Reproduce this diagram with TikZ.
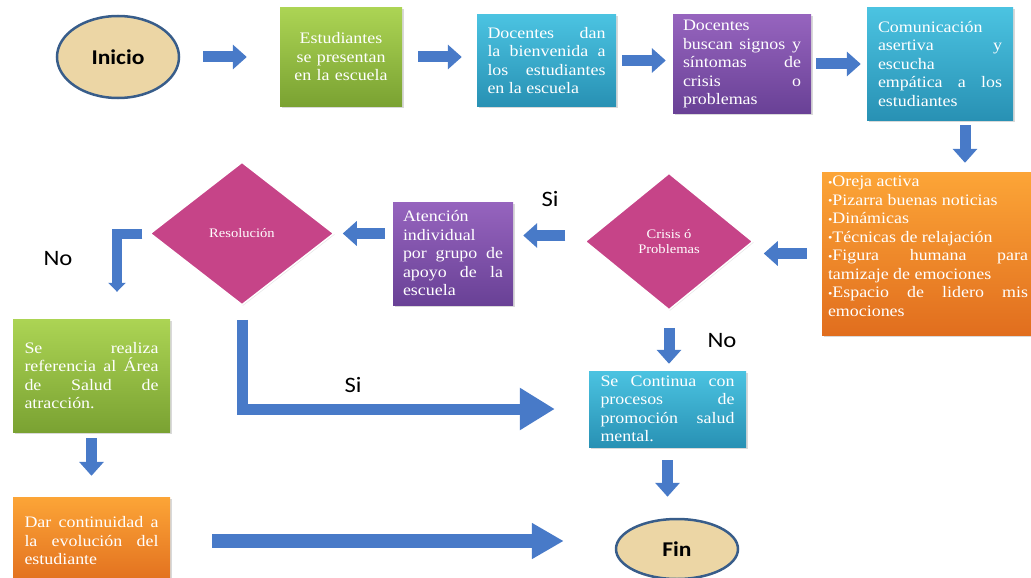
\documentclass[tikz,border=0pt]{standalone}
\usepackage{fontspec}
\setmainfont[FakeStretch=1.12]{Liberation Serif}
\newfontfamily\labelfont[FakeStretch=1.12]{Carlito}
\usetikzlibrary{arrows.meta}
\usetikzlibrary{shapes.geometric}
\usetikzlibrary{shadows}

\definecolor{greenT}{RGB}{172,212,84}
\definecolor{greenB}{RGB}{122,162,50}
\definecolor{cyanT}{RGB}{75,195,225}
\definecolor{cyanB}{RGB}{40,145,180}
\definecolor{purpleT}{RGB}{150,100,190}
\definecolor{purpleB}{RGB}{105,65,150}
\definecolor{orangeT}{RGB}{252,165,55}
\definecolor{orangeB}{RGB}{225,110,30}
\definecolor{decisionpink}{RGB}{198,68,136}
\definecolor{parchment}{RGB}{236,214,165}
\definecolor{rimblue}{RGB}{56,93,138}
\definecolor{flowblue}{RGB}{72,122,200}

\newcommand{\boxtext}{\fontsize{16}{18.5}\selectfont\hyphenpenalty=10000 \tolerance=10000 }
\newcommand{\dotitem}{\raisebox{0.12ex}{\scalebox{0.7}{•}}}

\begin{document}
\begin{tikzpicture}[x=1pt, y=-1pt,
	box/.style={rectangle, inner sep=1pt, text=white, font=\boxtext, align=justify, drop shadow={opacity=0.3, shadow xshift=1.5pt, shadow yshift=-1.5pt}},
	greenbox/.style={box, top color=greenT, bottom color=greenB},
	cyanbox/.style={box, top color=cyanT, bottom color=cyanB},
	purplebox/.style={box, top color=purpleT, bottom color=purpleB},
	orangebox/.style={box, top color=orangeT, bottom color=orangeB},
	decision/.style={diamond, fill=decisionpink, draw=white, line width=1.5pt, inner sep=0pt, text=white, align=center, font=\fontsize{13}{15}\selectfont, drop shadow={opacity=0.2, shadow xshift=1pt, shadow yshift=-1pt}},
	terminal/.style={ellipse, fill=parchment, draw=rimblue, line width=2.5pt, inner sep=0pt, font=\labelfont\bfseries\fontsize{21}{24}\selectfont},
	answer/.style={font=\labelfont\fontsize{22}{24}\selectfont},
	flow/.style={draw=flowblue, line width=11pt, -{Triangle[length=14pt, width=24pt]}}]
	\useasboundingbox (0,0) rectangle (1031,578);
	% top row
	\node[terminal, minimum width=122pt, minimum height=82pt] (ini) at (118,57) {Inicio};
	\node[greenbox, minimum width=122pt, minimum height=98pt, text width=110pt, align=center] (est) at (341,57) {Estudiantes\\ se presentan\\ en la escuela};
	\node[cyanbox, minimum width=139pt, minimum height=91pt, text width=118pt] (doc) at (546.5,60.5) {Docentes dan\linebreak la bienvenida a\linebreak los estudiantes\linebreak en la escuela};
	\node[purplebox, minimum width=138pt, minimum height=98pt, text width=118pt] (bus) at (742,64) {Docentes\linebreak buscan signos y\linebreak síntomas de\linebreak crisis o\linebreak problemas};
	\node[cyanbox, minimum width=146pt, minimum height=112pt, text width=124pt] (com) at (940,64) {Comunicación\linebreak asertiva y\linebreak escucha\linebreak empática a los\linebreak estudiantes};
	% middle row
	\node[orangebox, minimum width=212pt, minimum height=163pt, text width=200pt] (ora) at (928,253.5) {\dotitem Oreja activa\\ \dotitem Pizarra buenas noticias\\ \dotitem Dinámicas\\ \dotitem Técnicas de relajación\\ \dotitem Figura humana para\linebreak tamizaje de emociones\\ \dotitem Espacio de lidero mis\linebreak emociones\par\vspace{14pt}};
	\node[decision, minimum width=168pt, minimum height=137pt] (cri) at (669,241.5) {Crisis ó\\ Problemas};
	\node[purplebox, minimum width=120pt, minimum height=103pt, text width=100pt] (ate) at (453,253.5) {Atención\linebreak individual\linebreak por grupo de\linebreak apoyo de la\linebreak escuela};
	\node[decision, minimum width=184pt, minimum height=143pt] (res) at (242,233.5) {Resolución};
	% bottom part
	\node[greenbox, minimum width=157pt, minimum height=113pt, text width=134pt] (ref) at (91.5,375.5) {Se realiza\linebreak referencia al Área\linebreak de Salud de\linebreak atracción.};
	\node[orangebox, minimum width=157pt, minimum height=88pt, text width=134pt] (dar) at (91.5,541) {Dar continuidad a\linebreak la evolución del\linebreak estudiante};
	\node[cyanbox, minimum width=157pt, minimum height=76pt, text width=134pt] (cont) at (667.5,409) {Se Continua con\linebreak procesos de\linebreak promoción salud\linebreak mental.};
	\node[terminal, minimum width=122pt, minimum height=60pt] (fin) at (677,549) {Fin};
	% answers
	\node[answer] (si1) at (550,199) {Si};
	\node[answer] (no1) at (58,259) {No};
	\node[answer] (si2) at (353,385) {Si};
	\node[answer] (no2) at (722,341) {No};
	\coordinate (noturn) at (117,233.5);
	% arrows
	\draw[flow, shorten <=23pt, shorten >=33pt] (ini.east) -- (est.west);
	\draw[flow, shorten <=16pt, shorten >=15pt] (est.east) -- (est.east -| doc.west);
	\draw[flow, shorten <=6pt, shorten >=7pt] (doc.east) -- (doc.east -| bus.west);
	\draw[flow, shorten <=5pt, shorten >=6pt] (bus.east) -- (bus.east -| com.west);
	\draw[flow, shorten <=5pt, shorten >=9pt] ([xshift=25pt]com.south) -- ([xshift=25pt]com.south |- ora.north);
	\draw[flow, shorten <=15pt, shorten >=10pt] (ora.west) -- (ora.west -| cri.east);
	\draw[flow, shorten <=19pt, shorten >=10pt] ([yshift=6pt]cri.west) -- ([yshift=6pt]cri.west -| ate.east);
	\draw[flow, shorten <=8pt, shorten >=8pt] (res.east -| ate.west) -- (res.east);
	\draw[flow, line width=10pt, -{Triangle[length=9pt, width=17pt]}, shorten <=7pt, shorten >=27pt] (res.west) -- (noturn) -- (noturn |- ref.north);
	\draw[flow, shorten <=6pt, shorten >=21pt] (ref.south) -- (dar.north);
	\draw[flow, line width=14pt, -{Triangle[length=32pt, width=34pt]}, shorten <=42pt, shorten >=51pt] (dar.east) -- (dar.east -| fin.west);
	\draw[flow, -{Triangle[length=35pt, width=40pt]}, shorten <=14pt, shorten >=34pt] (res.south) -- (res.south |- cont.west) -- (cont.west);
	\draw[flow, shorten <=17pt, shorten >=7pt] (cri.south) -- (cri.south |- cont.north);
	\draw[flow, shorten <=13pt, shorten >=21pt] (cont.south) -- (cont.south |- fin.north);
\end{tikzpicture}
\end{document}
